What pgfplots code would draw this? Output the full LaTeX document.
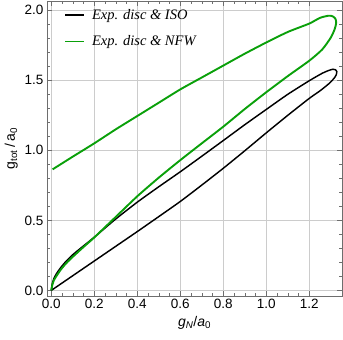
\documentclass[border=0pt]{standalone}
\usepackage{fontspec}
\setmainfont{Liberation Sans}
\newfontfamily\legfont{Liberation Serif}
\usepackage{pgfplots}
\pgfplotsset{compat=1.18}

\definecolor{mgreen}{RGB}{10,160,10}
\definecolor{framegray}{RGB}{110,110,110}

\begin{document}
\begin{tikzpicture}
\begin{axis}[
    width=295pt, height=295pt, scale only axis,
    xmin=-0.02, xmax=1.352, ymin=-0.04, ymax=2.066,
    xtick={0,0.2,0.4,0.6,0.8,1.0,1.2},
    ytick={0,0.5,1.0,1.5,2.0},
    minor x tick num=3, minor y tick num=4,
    grid=major,
    major grid style={gray!40, line width=0.6pt},
    axis line style={framegray, line width=0.6pt},
    tick style={framegray, line width=0.5pt},
    tick align=inside,
    major tick length=5pt, minor tick length=3pt,
    ticklabel style={font=\fontsize{13.5}{14}\selectfont},
    /pgf/number format/assume math mode=true,
    xticklabel style={/pgf/number format/.cd, fixed, fixed zerofill, precision=1},
    yticklabel style={/pgf/number format/.cd, fixed, fixed zerofill, precision=1},
    xlabel={\textit{g}\textsubscript{\textit{N}}/\textit{a}\textsubscript{0}},
    ylabel={g\textsubscript{tot}\,/\,a\textsubscript{0}},
    label style={font=\fontsize{14}{15}\selectfont},
    legend style={at={(0,1)}, anchor=north west, xshift=14pt, yshift=-4pt,
        draw=none, fill=none, font=\legfont\itshape\fontsize{14.5}{15}\selectfont,
        row sep=11pt, /tikz/every odd column/.append style={column sep=5pt}},
    legend cell align=left,
    legend image code/.code={\draw[#1] (0pt,0pt) -- (19pt,0pt);},
]
% Exp. disc & ISO (closed loop)
\addplot[black, line width=1.45pt, smooth, tension=0.4] coordinates {
(0,0) (0.004,0.045) (0.012,0.085) (0.025,0.122) (0.045,0.165) (0.07,0.21)
(0.1,0.255) (0.15,0.318) (0.2,0.38) (0.3,0.51) (0.4,0.63) (0.5,0.74)
(0.6,0.847) (0.7,0.958) (0.8,1.07) (0.9,1.183) (1.0,1.292) (1.1,1.40)
(1.2,1.497) (1.26,1.55) (1.29,1.57) (1.31,1.579) (1.322,1.575)
(1.328,1.562) (1.326,1.543) (1.318,1.52) (1.295,1.481) (1.25,1.425)
(1.2,1.371) (1.1,1.25) (1.0,1.125) (0.9,0.997) (0.8,0.872) (0.7,0.752)
(0.6,0.635) (0.5,0.527) (0.4,0.42) (0.3,0.315) (0.2,0.21) (0.1,0.105) (0,0)
};
\addlegendentry{Exp. disc \& ISO}
% Exp. disc & NFW
\addplot[mgreen, line width=1.9pt, smooth, tension=0.4] coordinates {
(0,0) (0.005,0.04) (0.012,0.072) (0.025,0.105) (0.045,0.15) (0.07,0.195)
(0.1,0.24) (0.15,0.31) (0.2,0.378) (0.3,0.525) (0.4,0.672) (0.5,0.805)
(0.6,0.93) (0.7,1.05) (0.8,1.169) (0.9,1.295) (1.0,1.415) (1.1,1.53)
(1.2,1.64) (1.26,1.72) (1.30,1.805) (1.318,1.865) (1.325,1.91) (1.321,1.94)
(1.308,1.957) (1.29,1.961) (1.25,1.946) (1.2,1.905) (1.1,1.845) (1.0,1.77)
(0.9,1.69) (0.8,1.605) (0.7,1.52) (0.6,1.435) (0.5,1.34) (0.4,1.245)
(0.3,1.15) (0.2,1.05) (0.1,0.955) (0.006,0.864)
};
\addlegendentry{Exp. disc \& NFW}
\end{axis}
\pgfresetboundingbox
\path[use as bounding box] ([xshift=-47pt,yshift=-44pt]current axis.south west)
    rectangle ([xshift=1pt,yshift=1pt]current axis.north east);
\end{tikzpicture}
\end{document}
